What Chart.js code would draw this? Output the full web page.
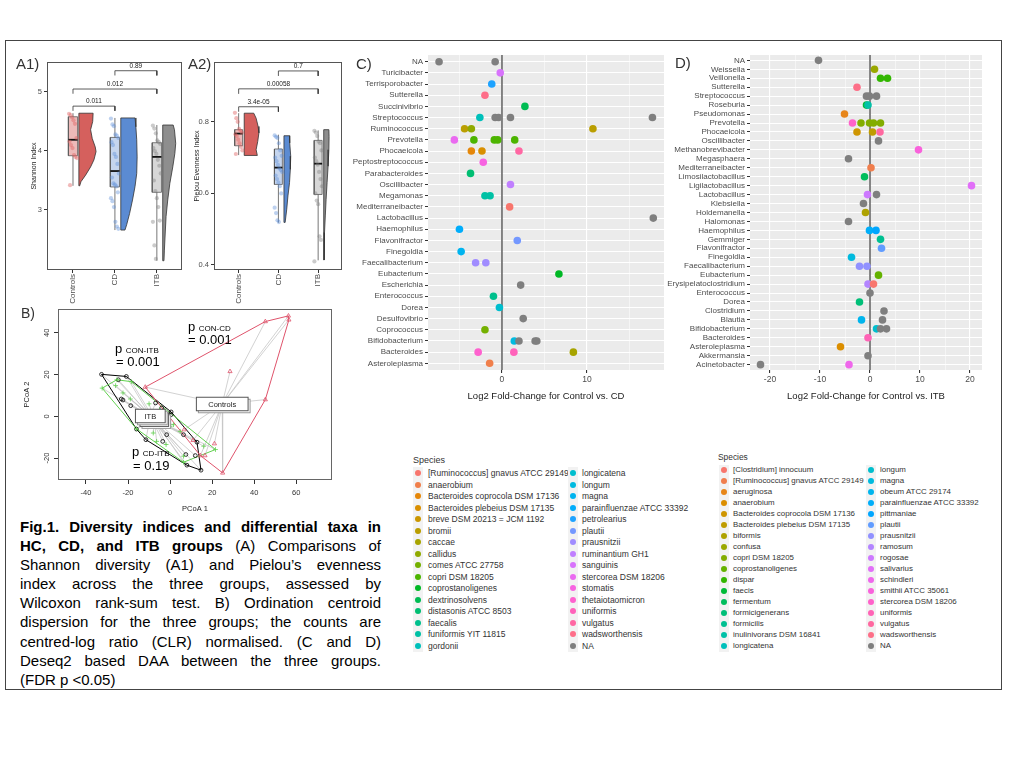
<!DOCTYPE html>
<html>
<head>
<meta charset="utf-8">
<script src="https://cdn.jsdelivr.net/npm/chart.js@4.4.1/dist/chart.umd.min.js"></script>
<style>
  body { margin: 0; width: 1024px; height: 768px; background: #fff; position: relative; overflow: hidden;
         font-family: "Liberation Sans", Arial, sans-serif; }
  canvas { position: absolute; }
  .frame { position: absolute; left: 5px; top: 40px; width: 995px; height: 648px; border: 1.5px solid #444; }
  .tag { position: absolute; color: #333; line-height: 1; }
  .pv { position: absolute; font-size: 13px; line-height: 13px; color: #000; white-space: nowrap; }
  .pv small { font-size: 8px; }
  .leg { position: absolute; color: #333; white-space: nowrap; }
  .key { position: absolute; background: #F2F2F2; }
  .dot { position: absolute; width: 6px; height: 6px; border-radius: 50%; }
  #caption { position: absolute; left: 20px; top: 517px; width: 361px; font-size: 15px; line-height: 19.1px; color: #000; }
  #caption .j { text-align: justify; text-align-last: justify; }
</style>
</head>
<body>
<div class="frame"></div>
<script>
// ---- A1 / A2 : alpha diversity -------------------------------------------
const groups = ['Controls', 'CD', 'ITB'];

const shannonControls = [4.63, 4.61, 4.57, 4.52, 4.46, 4.22, 4.16, 4.10, 4.05, 3.93, 3.90, 3.88, 3.42];
const shannonCD = [4.55, 4.45, 4.42, 4.28, 4.26, 4.22, 4.15, 4.10, 3.95, 3.90, 3.78, 3.62, 3.55, 3.45,
                   3.43, 3.40, 3.30, 3.20, 3.15, 3.05, 2.80, 2.72, 2.68];
const shannonITB = [4.43, 4.38, 4.30, 4.18, 4.15, 4.12, 4.05, 4.00, 3.95, 3.85, 3.75, 3.62, 3.50, 3.32,
                    3.20, 3.05, 2.82, 2.80, 2.40, 2.17];
// [lower whisker, Q1, median, Q3, upper whisker]
const shannonBox = [[3.41, 3.92, 4.19, 4.58, 4.64], [2.66, 3.39, 3.66, 4.23, 4.56], [2.14, 3.30, 3.90, 4.14, 4.44]];
// half violin outline, [value, density]
const shannonViolin = [
  [[4.64, .34], [4.50, .33], [4.36, .28], [4.21, .32], [4.07, .39], [3.99, .41], [3.85, .36], [3.73, .28], [3.59, .16], [3.48, .05], [3.41, .02]],
  [[4.56, .34], [4.41, .36], [4.19, .38], [3.90, .39], [3.62, .38], [3.40, .34], [3.17, .28], [2.94, .21], [2.75, .14], [2.66, .10]],
  [[4.44, .25], [4.36, .28], [4.13, .31], [3.96, .29], [3.73, .24], [3.45, .17], [3.17, .12], [2.89, .08], [2.61, .06], [2.32, .04], [2.14, .03]]
];
const shannonTests = [['Controls', 'CD', 4.76, '0.011'], ['Controls', 'ITB', 5.05, '0.012'], ['CD', 'ITB', 5.36, '0.89']];
const shannonTicks = [3, 4, 5];

const pielouControls = [0.825, 0.81, 0.80, 0.78, 0.775, 0.77, 0.765, 0.76, 0.75, 0.74, 0.73, 0.72, 0.71];
const pielouCD = [0.762, 0.758, 0.755, 0.74, 0.72, 0.705, 0.70, 0.69, 0.68, 0.67, 0.665, 0.66, 0.65, 0.64,
                  0.63, 0.62, 0.60, 0.56, 0.545, 0.525, 0.52];
const pielouITB = [0.775, 0.77, 0.76, 0.745, 0.74, 0.72, 0.70, 0.69, 0.68, 0.66, 0.64, 0.62, 0.60, 0.58,
                   0.57, 0.48, 0.47, 0.41];
const pielouBox = [[0.707, 0.733, 0.767, 0.778, 0.824], [0.518, 0.625, 0.672, 0.724, 0.764], [0.413, 0.597, 0.683, 0.748, 0.776]];
const pielouViolin = [
  [[0.824, .24], [0.810, .30], [0.787, .35], [0.769, .37], [0.745, .34], [0.722, .30], [0.706, .33]],
  [[0.761, .14], [0.741, .145], [0.704, .17], [0.667, .16], [0.630, .14], [0.593, .10], [0.556, .07], [0.519, .03]],
  [[0.778, .13], [0.759, .135], [0.722, .13], [0.676, .11], [0.630, .085], [0.583, .06], [0.537, .04], [0.491, .02], [0.444, .015], [0.414, .01]]
];
const pielouTests = [['Controls', 'CD', 0.842, '3.4e-05'], ['Controls', 'ITB', 0.892, '0.00058'], ['CD', 'ITB', 0.942, '0.7']];
const pielouTicks = [0.4, 0.6, 0.8];

// ---- B : PCoA / betadisper ------------------------------------------------
const pcoaControls = [[-11.8, 14.0], [45.3, 45.4], [56.3, 48.1], [56.5, 46.2], [28.5, 21.5], [45.3, 8.0],
                      [25.0, -27.1], [14.4, -18.8], [16.6, -18.8], [21.1, -13.1], [10.9, -11.5], [6.7, -6.4]];
const pcoaCD = [[-32.3, 13.5], [-25.3, 17.5], [-18.4, 16.6], [-25.9, 14.7], [-22.4, 11.2], [-18.9, 8.3],
                [-16.0, -6.0], [-8.0, -8.0], [-6.4, -12.0], [-1.9, -13.5], [0.0, -4.8], [1.6, -4.0],
                [4.8, -7.2], [6.4, -19.1], [6.4, -22.0], [16.0, -14.3], [21.6, -15.9], [-5.0, 3.0],
                [-10.0, 6.0], [-12.0, 1.0]];
const pcoaITB = [[-32.6, 20.1], [-20.8, 19.1], [-24.6, 17.5], [-23.2, 8.3], [-22.4, 7.8], [-18.7, 5.1],
                 [-16.0, -6.1], [-11.5, -11.2], [-6.9, 6.4], [-4.0, 4.0], [0.5, 2.1], [0.5, 0.8],
                 [-3.5, -12.0], [-1.6, -8.8], [6.4, -8.8], [7.5, -18.3], [8.0, -23.4], [12.0, -18.8],
                 [12.8, -12.4], [14.7, -25.8]];
const pcoaCentroids = [[24.8, 5.9], [-7.5, -1.6], [-9.4, 0.15]];   // Controls, CD, ITB
const pcoaXTicks = [-40, -20, 0, 20, 40, 60];
const pcoaYTicks = [-20, 0, 20, 40];

// ---- C / D : differential taxa --------------------------------------------
const cGenera = ['NA', 'Turicibacter', 'Terrisporobacter', 'Sutterella', 'Succinivibrio', 'Streptococcus',
  'Ruminococcus', 'Prevotella', 'Phocaeicola', 'Peptostreptococcus', 'Parabacteroides', 'Oscillibacter',
  'Megamonas', 'Mediterraneibacter', 'Lactobacillus', 'Haemophilus', 'Flavonifractor', 'Finegoldia',
  'Faecalibacterium', 'Eubacterium', 'Escherichia', 'Enterococcus', 'Dorea', 'Desulfovibrio',
  'Coprococcus', 'Bifidobacterium', 'Bacteroides', 'Asteroleplasma'];
const cSpecies = ['[Ruminococcus] gnavus ATCC 29149', 'anaerobium', 'Bacteroides coprocola DSM 17136',
  'Bacteroides plebeius DSM 17135', 'breve DSM 20213 = JCM 1192', 'bromii', 'caccae', 'callidus',
  'comes ATCC 27758', 'copri DSM 18205', 'coprostanoligenes', 'dextrinosolvens', 'distasonis ATCC 8503',
  'faecalis', 'funiformis YIT 11815', 'gordonii', 'longicatena', 'longum', 'magna',
  'parainfluenzae ATCC 33392', 'petrolearius', 'plautii', 'prausnitzii', 'ruminantium GH1', 'sanguinis',
  'stercorea DSM 18206', 'stomatis', 'thetaiotaomicron', 'uniformis', 'vulgatus', 'wadsworthensis', 'NA'];
// [genus, log2 fold change, species]
const cHits = [
  ['NA', -7.4, 'NA'], ['NA', -0.8, 'NA'],
  ['Turicibacter', -0.2, 'sanguinis'],
  ['Terrisporobacter', -1.2, 'petrolearius'],
  ['Sutterella', -2.0, 'wadsworthensis'],
  ['Succinivibrio', 2.7, 'dextrinosolvens'],
  ['Streptococcus', -2.6, 'gordonii'], ['Streptococcus', -0.8, 'NA'], ['Streptococcus', -0.4, 'NA'],
  ['Streptococcus', 1.0, 'NA'], ['Streptococcus', 17.7, 'NA'],
  ['Ruminococcus', -4.4, 'bromii'], ['Ruminococcus', -3.6, 'callidus'], ['Ruminococcus', 10.7, 'bromii'],
  ['Prevotella', -5.6, 'stercorea DSM 18206'], ['Prevotella', -3.3, 'copri DSM 18205'],
  ['Prevotella', -0.9, 'copri DSM 18205'], ['Prevotella', -0.5, 'copri DSM 18205'], ['Prevotella', 1.5, 'copri DSM 18205'],
  ['Phocaeicola', -3.6, 'Bacteroides coprocola DSM 17136'], ['Phocaeicola', -2.35, 'Bacteroides plebeius DSM 17135'],
  ['Phocaeicola', 2.0, 'vulgatus'],
  ['Peptostreptococcus', -2.2, 'stomatis'],
  ['Parabacteroides', -3.7, 'distasonis ATCC 8503'],
  ['Oscillibacter', 1.0, 'ruminantium GH1'],
  ['Megamonas', -2.0, 'funiformis YIT 11815'], ['Megamonas', -1.4, 'funiformis YIT 11815'],
  ['Mediterraneibacter', 0.9, '[Ruminococcus] gnavus ATCC 29149'],
  ['Lactobacillus', 17.8, 'NA'],
  ['Haemophilus', -5.0, 'parainfluenzae ATCC 33392'],
  ['Flavonifractor', 1.8, 'plautii'],
  ['Finegoldia', -4.8, 'magna'],
  ['Faecalibacterium', -3.1, 'prausnitzii'], ['Faecalibacterium', -1.9, 'prausnitzii'],
  ['Eubacterium', 6.7, 'coprostanoligenes'],
  ['Escherichia', 2.2, 'NA'],
  ['Enterococcus', -1.0, 'faecalis'],
  ['Dorea', -0.3, 'longicatena'],
  ['Desulfovibrio', 2.5, 'NA'],
  ['Coprococcus', -2.0, 'comes ATCC 27758'],
  ['Bifidobacterium', 1.45, 'longum'], ['Bifidobacterium', 2.0, 'NA'], ['Bifidobacterium', 3.9, 'NA'],
  ['Bifidobacterium', 4.1, 'NA'],
  ['Bacteroides', -2.8, 'thetaiotaomicron'], ['Bacteroides', 1.4, 'uniformis'], ['Bacteroides', 8.4, 'caccae'],
  ['Asteroleplasma', -1.45, 'anaerobium']
];
const cXTicks = [-5, 0, 5, 10, 15];

const dGenera = ['NA', 'Weissella', 'Veillonella', 'Sutterella', 'Streptococcus', 'Roseburia', 'Pseudomonas',
  'Prevotella', 'Phocaeicola', 'Oscillibacter', 'Methanobrevibacter', 'Megasphaera', 'Mediterraneibacter',
  'Limosilactobacillus', 'Ligilactobacillus', 'Lactobacillus', 'Klebsiella', 'Holdemanella', 'Halomonas',
  'Haemophilus', 'Gemmiger', 'Flavonifractor', 'Finegoldia', 'Faecalibacterium', 'Eubacterium',
  'Erysipelatoclostridium', 'Enterococcus', 'Dorea', 'Clostridium', 'Blautia', 'Bifidobacterium',
  'Bacteroides', 'Asteroleplasma', 'Akkermansia', 'Acinetobacter'];
const dSpecies = ['[Clostridium] innocuum', '[Ruminococcus] gnavus ATCC 29149', 'aeruginosa', 'anaerobium',
  'Bacteroides coprocola DSM 17136', 'Bacteroides plebeius DSM 17135', 'biformis', 'confusa',
  'copri DSM 18205', 'coprostanoligenes', 'dispar', 'faecis', 'fermentum', 'formicigenerans', 'formicilis',
  'inulinivorans DSM 16841', 'longicatena', 'longum', 'magna', 'obeum ATCC 29174',
  'parainfluenzae ATCC 33392', 'pittmaniae', 'plautii', 'prausnitzii', 'ramosum', 'rogosae', 'salivarius',
  'schindleri', 'smithii ATCC 35061', 'stercorea DSM 18206', 'uniformis', 'vulgatus', 'wadsworthensis', 'NA'];
const dHits = [
  ['NA', -10.3, 'NA'],
  ['Weissella', 0.9, 'confusa'],
  ['Veillonella', 2.1, 'dispar'], ['Veillonella', 3.5, 'dispar'],
  ['Sutterella', -2.6, 'wadsworthensis'],
  ['Streptococcus', -0.7, 'NA'], ['Streptococcus', -0.1, 'NA'], ['Streptococcus', 1.3, 'NA'],
  ['Roseburia', -0.7, 'faecis'], ['Roseburia', -0.4, 'inulinivorans DSM 16841'],
  ['Pseudomonas', -5.1, 'aeruginosa'],
  ['Prevotella', -3.5, 'stercorea DSM 18206'], ['Prevotella', -1.8, 'copri DSM 18205'],
  ['Prevotella', -0.1, 'copri DSM 18205'], ['Prevotella', 0.7, 'copri DSM 18205'], ['Prevotella', 2.1, 'copri DSM 18205'],
  ['Phocaeicola', -2.6, 'Bacteroides coprocola DSM 17136'], ['Phocaeicola', 0.5, 'Bacteroides plebeius DSM 17135'],
  ['Phocaeicola', 2.0, 'vulgatus'],
  ['Oscillibacter', 1.7, 'NA'],
  ['Methanobrevibacter', 9.7, 'smithii ATCC 35061'],
  ['Megasphaera', -4.3, 'NA'],
  ['Mediterraneibacter', 0.2, '[Ruminococcus] gnavus ATCC 29149'],
  ['Limosilactobacillus', -1.1, 'fermentum'],
  ['Ligilactobacillus', 20.3, 'salivarius'],
  ['Lactobacillus', -0.5, 'rogosae'], ['Lactobacillus', 1.3, 'NA'],
  ['Klebsiella', -1.3, 'NA'],
  ['Holdemanella', -0.9, 'biformis'],
  ['Halomonas', -4.3, 'NA'],
  ['Haemophilus', -0.1, 'parainfluenzae ATCC 33392'], ['Haemophilus', 1.2, 'pittmaniae'],
  ['Gemmiger', 2.1, 'formicilis'],
  ['Flavonifractor', 2.3, 'plautii'],
  ['Finegoldia', -3.7, 'magna'],
  ['Faecalibacterium', -2.1, 'prausnitzii'], ['Faecalibacterium', -0.6, 'prausnitzii'],
  ['Eubacterium', 1.7, 'coprostanoligenes'],
  ['Erysipelatoclostridium', -0.4, 'ramosum'], ['Erysipelatoclostridium', 0.7, '[Clostridium] innocuum'],
  ['Enterococcus', 0.0, 'NA'],
  ['Dorea', -2.1, 'formicigenerans'],
  ['Clostridium', 2.8, 'NA'],
  ['Blautia', -1.7, 'obeum ATCC 29174'], ['Blautia', 2.5, 'NA'],
  ['Bifidobacterium', 1.3, 'longum'], ['Bifidobacterium', 2.1, 'NA'], ['Bifidobacterium', 3.3, 'NA'],
  ['Bacteroides', -0.4, 'uniformis'],
  ['Asteroleplasma', -5.9, 'anaerobium'],
  ['Akkermansia', -0.4, 'NA'],
  ['Acinetobacter', -21.9, 'NA'], ['Acinetobacter', -4.2, 'schindleri']
];
const dXTicks = [-20, -15, -10, -5, 0, 5, 10, 15, 20];

// ---------------------------------------------------------------------------
const FONT = '"Liberation Sans", Arial, sans-serif';
Chart.defaults.font.family = FONT;
Chart.defaults.animation = false;

// ggplot's default hue palette
function hcl(h, c, l) {
  const hr = h * Math.PI / 180;
  const U = c * Math.cos(hr), V = c * Math.sin(hr);
  const Xn = 95.047, Yn = 100, Zn = 108.883;
  const den = Xn + 15 * Yn + 3 * Zn;
  const un = 4 * Xn / den, vn = 9 * Yn / den;
  const Y = Yn * Math.pow((l + 16) / 116, 3);
  const u = U / (13 * l) + un, v = V / (13 * l) + vn;
  const X = 9 * Y * u / (4 * v);
  const Z = 3 * Y / v - X / 3 - 5 * Y;
  const x = X / 100, y = Y / 100, z = Z / 100;
  const lin = [3.240479 * x - 1.537150 * y - 0.498535 * z,
               -0.969256 * x + 1.875992 * y + 0.041556 * z,
               0.055648 * x - 0.204043 * y + 1.057311 * z];
  return '#' + lin.map(t => {
    t = t <= 0.0031308 ? 12.92 * t : 1.055 * Math.pow(t, 1 / 2.4) - 0.055;
    t = Math.max(0, Math.min(1, t));
    return Math.round(t * 255).toString(16).padStart(2, '0');
  }).join('');
}
function speciesColours(list) {
  const named = list.filter(s => s !== 'NA');
  const pal = named.map((_, i) => hcl(15 + 360 * i / named.length, 100, 65));
  return s => s === 'NA' ? '#7F7F7F' : pal[named.indexOf(s)];
}

function canvasAt(b) {
  const c = document.createElement('canvas');
  c.width = b.right - b.left; c.height = b.bottom - b.top;
  c.style.left = b.left + 'px'; c.style.top = b.top + 'px';
  c.style.width = c.width + 'px'; c.style.height = c.height + 'px';
  document.body.appendChild(c);
  return c;
}

// plugins
const plotBg = {
  id: 'plotBg',
  beforeDraw(chart, args, o) {
    if (!o.color) return;
    const a = chart.chartArea, ctx = chart.ctx;
    ctx.save(); ctx.fillStyle = o.color;
    ctx.fillRect(a.left, a.top, a.right - a.left, a.bottom - a.top);
    ctx.restore();
  }
};
const plotFrame = {
  id: 'plotFrame',
  afterDraw(chart, args, o) {
    if (!o.color) return;
    const a = chart.chartArea, ctx = chart.ctx;
    ctx.save(); ctx.strokeStyle = o.color; ctx.lineWidth = o.width || 1;
    ctx.strokeRect(a.left + 0.5, a.top + 0.5, a.right - a.left - 1, a.bottom - a.top - 1);
    ctx.restore();
  }
};
const zeroLine = {
  id: 'zeroLine',
  beforeDatasetsDraw(chart, args, o) {
    if (!o.color) return;
    const a = chart.chartArea, ctx = chart.ctx, x = chart.scales.x.getPixelForValue(0);
    ctx.save(); ctx.strokeStyle = o.color; ctx.lineWidth = o.width;
    ctx.beginPath(); ctx.moveTo(x, a.top); ctx.lineTo(x, a.bottom); ctx.stroke();
    ctx.restore();
  }
};
const bracketText = {
  id: 'bracketText',
  afterDatasetsDraw(chart, args, o) {
    if (!o.items) return;
    const ctx = chart.ctx, sx = chart.scales.x, sy = chart.scales.y;
    ctx.save(); ctx.font = o.size + 'px ' + FONT; ctx.fillStyle = '#222';
    ctx.textAlign = 'center'; ctx.textBaseline = 'bottom';
    o.items.forEach(it => ctx.fillText(it.text, sx.getPixelForValue(it.x), sy.getPixelForValue(it.y) - 1.5));
    ctx.restore();
  }
};
const rotYTicks = {
  id: 'rotYTicks',
  afterDraw(chart, args, o) {
    if (!o.offset) return;
    const s = chart.scales.y, ctx = chart.ctx;
    ctx.save(); ctx.font = o.size + 'px ' + FONT; ctx.fillStyle = o.color;
    ctx.textAlign = 'center'; ctx.textBaseline = 'middle';
    s.ticks.forEach(t => {
      ctx.save();
      ctx.translate(chart.chartArea.left - o.offset, s.getPixelForValue(t.value));
      ctx.rotate(-Math.PI / 2);
      ctx.fillText(String(t.value), 0, 0);
      ctx.restore();
    });
    ctx.restore();
  }
};
const centroidLabels = {
  id: 'centroidLabels',
  afterDatasetsDraw(chart, args, o) {
    if (!o.items) return;
    const ctx = chart.ctx, sx = chart.scales.x, sy = chart.scales.y;
    ctx.save(); ctx.font = o.size + 'px ' + FONT;
    o.items.forEach(it => {
      const tw = ctx.measureText(it.text).width;
      const w = tw * 1.35 + 14, h = 13.5;
      const x = sx.getPixelForValue(it.x) - w / 2, y = sy.getPixelForValue(it.y) - h / 2;
      ctx.fillStyle = '#fff'; ctx.strokeStyle = '#999'; ctx.lineWidth = 1;
      ctx.fillRect(x + 2, y + 2, w, h); ctx.strokeRect(x + 2, y + 2, w, h);
      ctx.strokeStyle = '#555';
      ctx.fillRect(x, y, w, h); ctx.strokeRect(x, y, w, h);
      ctx.fillStyle = '#222'; ctx.textAlign = 'center'; ctx.textBaseline = 'middle';
      ctx.fillText(it.text, x + w / 2, y + h / 2 + 0.5);
    });
    ctx.restore();
  }
};
Chart.register(plotBg, plotFrame, zeroLine, bracketText, rotYTicks, centroidLabels);

// ---- A panels --------------------------------------------------------------
const violinFill = ['#D5605D', '#5B8BD2', '#8E8E8E'];
const boxFill = ['#EDBAB9', '#C5D5EE', '#D7D7D7'];
const pointFill = ['rgba(225,100,100,0.45)', 'rgba(90,140,215,0.4)', 'rgba(125,125,125,0.4)'];
const VIOLIN_GAP = 0.14;
const jitter = i => (((i * 37) % 17) - 8) / 85;

function boxPanel(box, area, yMin, yMax, yTicks, yTitle, titlePad, samples, boxes, violins, tests, bw, drop) {
  const datasets = [];
  groups.forEach((g, gi) => {
    const cx = gi + 1;
    datasets.push({ data: samples[gi].map((v, i) => ({ x: cx + jitter(i), y: v })),
      pointRadius: 2.1, backgroundColor: pointFill[gi], borderWidth: 0, order: 0 });
    const [lo, q1, md, q3, hi] = boxes[gi];
    datasets.push({ data: [{ x: cx - bw, y: md }, { x: cx + bw, y: md }], showLine: true,
      borderColor: '#111', borderWidth: 1.8, pointRadius: 0, order: 1 });
    datasets.push({ data: [{ x: cx - bw, y: q1 }, { x: cx + bw, y: q1 }, { x: cx + bw, y: q3 }, { x: cx - bw, y: q3 }, { x: cx - bw, y: q1 }],
      showLine: true, fill: 'shape', backgroundColor: boxFill[gi], borderColor: '#5a5a5a', borderWidth: 0.8, pointRadius: 0, order: 2 });
    datasets.push({ data: [{ x: cx, y: lo }, { x: cx, y: hi }], showLine: true,
      borderColor: '#777', borderWidth: 1, pointRadius: 0, order: 3 });
    const prof = violins[gi], vb = cx + VIOLIN_GAP;
    const poly = [{ x: vb, y: prof[0][0] }]
      .concat(prof.map(([v, d]) => ({ x: vb + d, y: v })))
      .concat([{ x: vb, y: prof[prof.length - 1][0] }, { x: vb, y: prof[0][0] }]);
    datasets.push({ data: poly, showLine: true, fill: 'shape', backgroundColor: violinFill[gi],
      borderColor: '#333', borderWidth: 0.8, pointRadius: 0, order: 4 });
  });
  const labels = [];
  tests.forEach(([a, b, lvl, p]) => {
    const xa = groups.indexOf(a) + 1, xb = groups.indexOf(b) + 1;
    datasets.push({ data: [{ x: xa, y: lvl - drop }, { x: xa, y: lvl }, { x: xb, y: lvl }, { x: xb, y: lvl - drop }],
      showLine: true, borderColor: '#333', borderWidth: 0.8, pointRadius: 0, order: 0 });
    labels.push({ x: (xa + xb) / 2, y: lvl, text: p });
  });

  new Chart(canvasAt(box), {
    type: 'scatter',
    data: { datasets },
    options: {
      responsive: false, events: [],
      layout: { padding: { top: area.y0 - box.top, right: box.right - area.x1, left: 0, bottom: 0 } },
      plugins: { legend: { display: false }, tooltip: { enabled: false },
                 plotFrame: { color: '#555', width: 1 }, bracketText: { items: labels, size: 6.5 } },
      scales: {
        x: {
          type: 'linear', min: 0.38, max: 3.6,
          afterBuildTicks: s => { s.ticks = groups.map((_, i) => ({ value: i + 1 })); },
          afterFit: s => { s.height = box.bottom - area.y1; },
          ticks: { callback: v => groups[v - 1], minRotation: 90, maxRotation: 90, autoSkip: false,
                   font: { size: 8 }, color: '#4D4D4D', padding: 1 },
          grid: { drawOnChartArea: false, tickLength: 3, color: '#333' }, border: { display: false }
        },
        y: {
          type: 'linear', min: yMin, max: yMax,
          afterBuildTicks: s => { s.ticks = yTicks.map(v => ({ value: v })); },
          afterFit: s => { s.width = area.x0 - box.left; },
          ticks: { callback: v => String(v), font: { size: 7.5 }, color: '#4D4D4D', padding: 2 },
          grid: { drawOnChartArea: false, tickLength: 3, color: '#333' }, border: { display: false },
          title: { display: true, text: yTitle, font: { size: 7 }, color: '#222', padding: { top: titlePad, bottom: 0 } }
        }
      }
    }
  });
}

boxPanel({ left: 10, top: 45, right: 186, bottom: 306 }, { x0: 47, x1: 182, y0: 62, y1: 270 },
  1.983, 5.508, shannonTicks, 'Shannon Index', 19.5,
  [shannonControls, shannonCD, shannonITB], shannonBox, shannonViolin, shannonTests, 0.11, 0.08);
boxPanel({ left: 188, top: 45, right: 346, bottom: 306 }, { x0: 214, x1: 343, y0: 62, y1: 270 },
  0.386, 0.967, pielouTicks, 'Pielou Evenness Index', 4.8,
  [pielouControls, pielouCD, pielouITB], pielouBox, pielouViolin, pielouTests, 0.1, 0.014);

// ---- B panel ---------------------------------------------------------------
function hull(pts) {
  const p = pts.slice().sort((a, b) => a[0] - b[0] || a[1] - b[1]);
  const cross = (o, a, b) => (a[0] - o[0]) * (b[1] - o[1]) - (a[1] - o[1]) * (b[0] - o[0]);
  const lower = [], upper = [];
  p.forEach(q => { while (lower.length >= 2 && cross(lower[lower.length - 2], lower[lower.length - 1], q) <= 0) lower.pop(); lower.push(q); });
  p.slice().reverse().forEach(q => { while (upper.length >= 2 && cross(upper[upper.length - 2], upper[upper.length - 1], q) <= 0) upper.pop(); upper.push(q); });
  const h = lower.slice(0, -1).concat(upper.slice(0, -1));
  return h.concat([h[0]]);
}
(function pcoaPanel() {
  const box = { left: 10, top: 300, right: 340, bottom: 515 }, area = { x0: 58, x1: 332, y0: 309, y1: 480 };
  const sets = [pcoaControls, pcoaCD, pcoaITB];
  const colours = ['#DF536B', '#61D04F', '#000000'];
  const styles = ['triangle', 'cross', 'circle'];
  const datasets = [];
  sets.forEach((pts, gi) => {
    const c = pcoaCentroids[gi];
    pts.forEach(p => datasets.push({ data: [{ x: c[0], y: c[1] }, { x: p[0], y: p[1] }], showLine: true,
      borderColor: '#C6C6C6', borderWidth: 0.8, pointRadius: 0, order: 5 }));
  });
  sets.forEach((pts, gi) => {
    datasets.push({ data: hull(pts).map(p => ({ x: p[0], y: p[1] })), showLine: true,
      borderColor: colours[gi], borderWidth: 1, pointRadius: 0, order: 4 });
    datasets.push({ data: pts.map(p => ({ x: p[0], y: p[1] })), pointStyle: styles[gi],
      pointRadius: gi === 2 ? 1.9 : 2.4, borderColor: colours[gi], backgroundColor: 'rgba(0,0,0,0)',
      borderWidth: 0.8, order: 1 });
  });
  const labels = [{ x: pcoaCentroids[0][0], y: pcoaCentroids[0][1], text: 'Controls' },
                  { x: pcoaCentroids[1][0], y: pcoaCentroids[1][1], text: 'CD' },
                  { x: pcoaCentroids[2][0], y: pcoaCentroids[2][1], text: 'ITB' }];
  new Chart(canvasAt(box), {
    type: 'scatter',
    data: { datasets },
    options: {
      responsive: false, events: [],
      layout: { padding: { top: area.y0 - box.top, right: box.right - area.x1, left: 0, bottom: 0 } },
      plugins: { legend: { display: false }, tooltip: { enabled: false },
                 plotFrame: { color: '#666', width: 1 }, centroidLabels: { items: labels, size: 7.5 },
                 rotYTicks: { offset: 11, size: 7.5, color: '#333' } },
      scales: {
        x: {
          type: 'linear', min: -53.3, max: 77,
          afterBuildTicks: s => { s.ticks = pcoaXTicks.map(v => ({ value: v })); },
          afterFit: s => { s.height = box.bottom - area.y1; },
          ticks: { font: { size: 7.5 }, color: '#333', padding: 4, maxRotation: 0 },
          grid: { drawOnChartArea: false, tickLength: 4, color: '#333' }, border: { display: false },
          title: { display: true, text: 'PCoA 1', font: { size: 7.5 }, color: '#222', padding: { top: 0, bottom: 2 } }
        },
        y: {
          type: 'linear', min: -30.5, max: 51.4,
          afterBuildTicks: s => { s.ticks = pcoaYTicks.map(v => ({ value: v })); },
          afterFit: s => { s.width = area.x0 - box.left; },
          ticks: { display: false },
          grid: { drawOnChartArea: false, tickLength: 4, color: '#333' }, border: { display: false },
          title: { display: true, text: 'PCoA 2', font: { size: 7.5 }, color: '#222', padding: { top: 12.5, bottom: 0 } }
        }
      }
    }
  });
})();

// ---- C / D panels ----------------------------------------------------------
function dotPanel(box, area, genera, species, hits, xMin, xMax, xTicks, title) {
  const colourOf = speciesColours(species);
  new Chart(canvasAt(box), {
    type: 'scatter',
    data: { datasets: [{
      data: hits.map(h => ({ x: h[1], y: genera.indexOf(h[0]) })),
      backgroundColor: hits.map(h => colourOf(h[2])),
      pointRadius: 3.8, borderWidth: 0
    }] },
    options: {
      responsive: false, events: [],
      layout: { padding: { top: area.y0 - box.top, right: box.right - area.x1, left: 0, bottom: 0 } },
      plugins: { legend: { display: false }, tooltip: { enabled: false },
                 plotBg: { color: '#EBEBEB' }, zeroLine: { color: '#5F5F5F', width: 1.5 } },
      scales: {
        x: {
          type: 'linear', min: xMin, max: xMax,
          afterBuildTicks: s => { s.ticks = xTicks.map(v => ({ value: v })); },
          afterFit: s => { s.height = box.bottom - area.y1; },
          ticks: { callback: v => (v % 10 === 0 ? String(v) : ''), autoSkip: false, maxRotation: 0,
                   font: { size: 8.5 }, color: '#4D4D4D', padding: 2 },
          grid: { color: '#FFFFFF', tickLength: 3,
                  lineWidth: c => (c.tick && c.tick.value % 10 === 0 ? 1.1 : 0.5),
                  tickColor: c => (c.tick && c.tick.value % 10 === 0 ? '#333' : 'rgba(0,0,0,0)') },
          border: { display: false },
          title: { display: true, text: title, font: { size: 9.5 }, color: '#1A1A1A', padding: { top: 0, bottom: 3 } }
        },
        y: {
          type: 'linear', min: -0.6, max: genera.length - 0.4, reverse: true,
          afterBuildTicks: s => { s.ticks = genera.map((_, i) => ({ value: i })); },
          afterFit: s => { s.width = area.x0 - box.left; },
          ticks: { callback: v => genera[v], autoSkip: false, font: { size: 8 }, color: '#4D4D4D', padding: 2 },
          grid: { color: '#FFFFFF', lineWidth: 1, tickColor: '#333', tickLength: 3 },
          border: { display: false }
        }
      }
    }
  });
}
dotPanel({ left: 350, top: 45, right: 668, bottom: 405 }, { x0: 428, x1: 664, y0: 55, y1: 370 },
  cGenera, cSpecies, cHits, -8.7, 19.06, cXTicks, 'Log2 Fold-Change for Control vs. CD');
dotPanel({ left: 655, top: 45, right: 990, bottom: 405 }, { x0: 750, x1: 982, y0: 55, y1: 370 },
  dGenera, dSpecies, dHits, -24, 22.4, dXTicks, 'Log2 Fold-Change for Control vs. ITB');

// ---- legends ---------------------------------------------------------------
function legend(species, fontPx, titleX, titleY, y0, rowH, cols, perCol) {
  const colourOf = speciesColours(species);
  const add = (cls, css, text) => {
    const d = document.createElement('div'); d.className = cls;
    Object.assign(d.style, css); if (text) d.textContent = text;
    document.body.appendChild(d); return d;
  };
  add('leg', { left: titleX + 'px', top: (titleY - 6) + 'px', fontSize: (fontPx + 0.5) + 'px', lineHeight: '12px' }, 'Species');
  species.forEach((s, i) => {
    const col = cols[Math.floor(i / perCol)], y = y0 + (i % perCol) * rowH;
    add('key', { left: (col.dot - 5) + 'px', top: (y - rowH / 2) + 'px', width: '10px', height: rowH + 'px' });
    add('dot', { left: (col.dot - 3) + 'px', top: (y - 3) + 'px', background: colourOf(s) });
    add('leg', { left: col.text + 'px', top: (y - 6) + 'px', lineHeight: '12px', fontSize: fontPx + 'px' }, s);
  });
}
legend(cSpecies, 8.5, 413, 460, 473, 11.53, [{ dot: 418, text: 428 }, { dot: 573, text: 582 }], 16);
legend(dSpecies, 7.9, 718, 457, 470, 11.0, [{ dot: 723.5, text: 733 }, { dot: 871, text: 880 }], 17);
</script>

<div class="tag" style="left:16px;top:56px;font-size:15px">A1)</div>
<div class="tag" style="left:188px;top:56px;font-size:15px">A2)</div>
<div class="tag" style="left:21px;top:306px;font-size:14px">B)</div>
<div class="tag" style="left:356px;top:56px;font-size:15px">C)</div>
<div class="tag" style="left:675px;top:55px;font-size:15px">D)</div>

<div class="pv" style="left:188px;top:319.5px">p <small>CON-CD</small></div>
<div class="pv" style="left:188px;top:333px">= 0.001</div>
<div class="pv" style="left:115px;top:341.5px">p <small>CON-ITB</small></div>
<div class="pv" style="left:116px;top:355px">= 0.001</div>
<div class="pv" style="left:132px;top:445px">p <small>CD-ITB</small></div>
<div class="pv" style="left:133px;top:459px">= 0.19</div>

<div id="caption">
  <div class="j"><b>Fig.1. Diversity indices and differential taxa in</b></div>
  <div class="j"><b>HC, CD, and ITB groups</b> (A) Comparisons of</div>
  <div class="j">Shannon diversity (A1) and Pielou’s evenness</div>
  <div class="j">index across the three groups, assessed by</div>
  <div class="j">Wilcoxon rank-sum test. B) Ordination centroid</div>
  <div class="j">dispersion for the three groups; the counts are</div>
  <div class="j">centred-log ratio (CLR) normalised. (C and D)</div>
  <div class="j">Deseq2 based DAA between the three groups.</div>
  <div>(FDR p &lt;0.05)</div>
</div>
</body>
</html>
